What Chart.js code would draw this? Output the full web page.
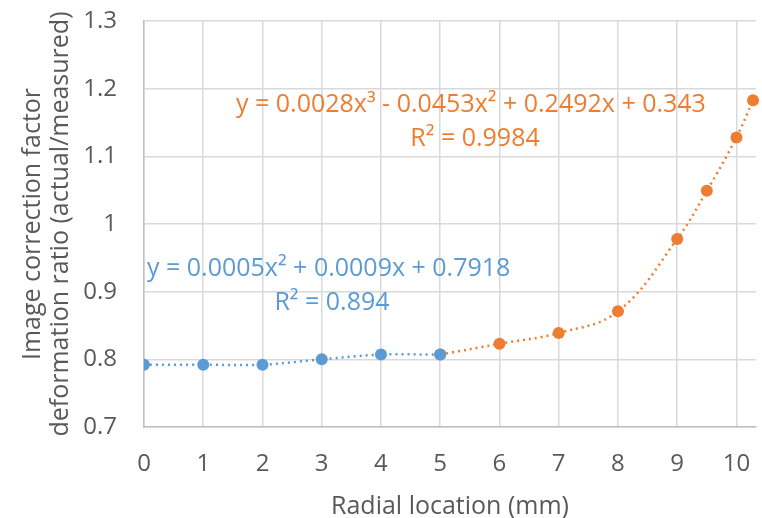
<!DOCTYPE html>
<html>
<head>
<meta charset="utf-8">
<script src="https://cdn.jsdelivr.net/npm/chart.js@4"></script>
<style>
  body { margin: 0; background: #fff; }
</style>
</head>
<body>
<canvas id="myChart" width="762" height="518"></canvas>
<script>
// inner zone (blue) and outer zone (orange) measurements
var innerX = [0, 1, 2, 3, 4, 5];
var innerY = [0.792, 0.792, 0.792, 0.800, 0.807, 0.807];
var outerX = [5, 6, 7, 8, 9, 9.5, 10, 10.28];
var outerY = [0.807, 0.823, 0.839, 0.871, 0.978, 1.049, 1.128, 1.183];
var xTicks = [0, 1, 2, 3, 4, 5, 6, 7, 8, 9, 10];
var yTicks = [0.7, 0.8, 0.9, 1, 1.1, 1.2, 1.3];

var blue = "#5B9BD5";
var orange = "#ED7D31";
var grey = "#595959";
var font = "'Open Sans', sans-serif";

function toPoints(xs, ys) {
  return xs.map((x, i) => ({ x: x, y: ys[i] }));
}

// trendline equations as printed on the chart
var labels = [
  { text: "y = 0.0028x\u00b3 - 0.0453x\u00b2 + 0.2492x + 0.343", x: 236, y: 105, color: orange, align: "left" },
  { text: "R\u00b2 = 0.9984", x: 475, y: 139, color: orange, align: "center" },
  { text: "y = 0.0005x\u00b2 + 0.0009x + 0.7918", x: 147, y: 269, color: blue, align: "left" },
  { text: "R\u00b2 = 0.894", x: 332, y: 303, color: blue, align: "center" },
];

var textPlugin = {
  id: "eqText",
  afterDatasetsDraw(chart) {
    var ctx = chart.ctx;
    ctx.save();
    ctx.font = "25px " + font;
    ctx.textBaseline = "middle";
    labels.forEach((l) => {
      ctx.fillStyle = l.color;
      ctx.textAlign = l.align;
      ctx.fillText(l.text, l.x, l.y);
    });
    ctx.restore();
  },
};

var ctx = document.getElementById("myChart").getContext("2d");
var myChart = new Chart(ctx, {
  type: "scatter",
  data: {
    datasets: [
      {
        label: "inner",
        data: toPoints(innerX, innerY),
        showLine: true,
        borderColor: blue,
        backgroundColor: blue,
        borderWidth: 2.5,
        borderDash: [2, 4],
        tension: 0.3,
        pointRadius: 6,
        pointBorderWidth: 0,
        pointBackgroundColor: blue,
      },
      {
        label: "outer",
        data: toPoints(outerX, outerY),
        showLine: true,
        borderColor: orange,
        backgroundColor: orange,
        borderWidth: 2.5,
        borderDash: [2, 4],
        tension: 0.4,
        pointRadius: 6,
        pointBorderWidth: 0,
        pointBackgroundColor: orange,
        clip: false,
      },
    ],
  },
  options: {
    responsive: false,
    animation: false,
    layout: {
      padding: { left: 0, right: 0, top: 21, bottom: 0 },
    },
    plugins: {
      legend: { display: false },
      tooltip: { enabled: false },
    },
    scales: {
      x: {
        type: "linear",
        min: 0,
        max: 10.33,
        afterBuildTicks: (scale) => {
          scale.ticks = xTicks.map((v) => ({ value: v }));
        },
        afterFit: (scale) => {
          scale.height = 91;
          scale.paddingRight = 0;
          scale.paddingLeft = 0;
        },
        grid: { color: "#d9d9d9", lineWidth: 1.5, drawTicks: false },
        border: { color: "#bfbfbf", width: 1.5 },
        ticks: {
          color: grey,
          font: { size: 24, family: font },
          padding: 23,
          maxRotation: 0,
        },
        title: {
          display: true,
          text: "Radial location (mm)",
          color: grey,
          font: { size: 25, family: font },
          padding: { top: 0, bottom: -4 },
        },
      },
      y: {
        type: "linear",
        min: 0.7,
        max: 1.3,
        afterBuildTicks: (scale) => {
          scale.ticks = yTicks.map((v) => ({ value: v }));
        },
        afterFit: (scale) => {
          scale.width = 144;
          scale.paddingTop = 0;
          scale.paddingBottom = 0;
        },
        grid: { color: "#d9d9d9", lineWidth: 1.5, drawTicks: false },
        border: { color: "#bfbfbf", width: 1.5 },
        ticks: {
          color: grey,
          font: { size: 24, family: font },
          padding: 27,
          callback: (v) => String(v),
        },
        title: {
          display: true,
          text: ["Image correction factor", "deformation ratio (actual/measured)"],
          color: grey,
          font: { size: 25, family: font, lineHeight: 1.12 },
          padding: { top: 19, bottom: 0 },
        },
      },
    },
  },
  plugins: [textPlugin],
});
</script>
</body>
</html>
